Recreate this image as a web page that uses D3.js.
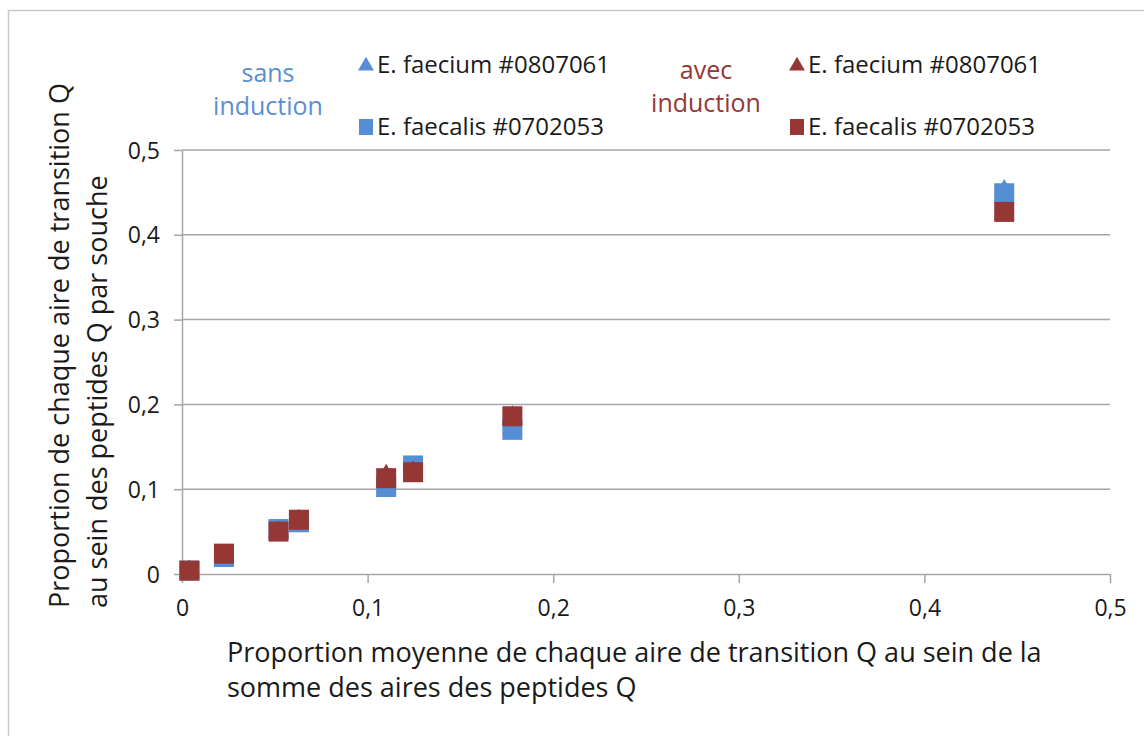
<!DOCTYPE html>
<html>
<head>
<meta charset="utf-8">
<script src="https://cdn.jsdelivr.net/npm/d3@7"></script>
<style>
  body { margin: 0; background: #fff; }
  text { font-family: "Open Sans", "Liberation Sans", sans-serif; fill: #1a1a1a; }
</style>
</head>
<body>
<script>
// x = proportion moyenne, y = proportion par souche
let xVals = [0.004, 0.0226, 0.052, 0.063, 0.110, 0.1245, 0.178, 0.443];
let faeciumSans = [0.003, 0.019, 0.050, 0.061, 0.103, 0.126, 0.172, 0.452];
let faecalisSans = [0.004, 0.020, 0.053, 0.061, 0.1026, 0.128, 0.170, 0.449];
let faeciumAvec = [0.003, 0.022, 0.049, 0.063, 0.116, 0.120, 0.185, 0.426];
let faecalisAvec = [0.004, 0.024, 0.050, 0.064, 0.113, 0.120, 0.186, 0.427];
let ticks = [0, 0.1, 0.2, 0.3, 0.4, 0.5];
let tickLabels = ['0', '0,1', '0,2', '0,3', '0,4', '0,5'];

let blue = '#558ed5';
let red = '#953735';

let width = 1144, height = 736;
let margin = { top: 150, right: 34, bottom: 162, left: 182 };

let svg = d3.select('body').append('svg')
  .attr('width', width).attr('height', height);

svg.append('rect')
  .attr('x', 8.5).attr('y', 10.5)
  .attr('width', width + 20).attr('height', height + 20)
  .attr('fill', 'none').attr('stroke', '#c8c8c8').attr('stroke-width', 1.5);

let x = d3.scaleLinear().domain([0, 0.5]).range([margin.left, width - margin.right]);
let y = d3.scaleLinear().domain([0, 0.5]).range([height - margin.bottom, margin.top]);

// grid
svg.append('g').selectAll('line')
  .data(ticks.slice(1))
  .enter().append('line')
  .attr('x1', x(0)).attr('x2', x(0.5))
  .attr('y1', d => y(d)).attr('y2', d => y(d))
  .attr('stroke', '#a6a6a6').attr('stroke-width', 1.5);

// axes
let xAxis = svg.append('g')
  .attr('transform', `translate(0,${y(0)})`)
  .call(d3.axisBottom(x).tickValues(ticks).tickFormat((d, i) => tickLabels[i]).tickSizeInner(9).tickSizeOuter(0).tickPadding(17));
let yAxis = svg.append('g')
  .attr('transform', `translate(${x(0)},0)`)
  .call(d3.axisLeft(y).tickValues(ticks).tickFormat((d, i) => tickLabels[i]).tickSizeInner(8).tickSizeOuter(0).tickPadding(14));

[xAxis, yAxis].forEach(a => {
  a.selectAll('path,line').attr('stroke', '#a6a6a6').attr('stroke-width', 1.5);
  a.selectAll('text').style('font-size', '23px').attr('fill', '#1a1a1a');
});
yAxis.selectAll('text').attr('dy', '0.35em');

// markers
let tri = d3.symbol().type(d3.symbolTriangle).size(180);
let series = [
  { vals: faeciumSans, color: blue, shape: 'tri' },
  { vals: faecalisSans, color: blue, shape: 'sq' },
  { vals: faeciumAvec, color: red, shape: 'tri' },
  { vals: faecalisAvec, color: red, shape: 'sq' }
];

series.forEach(s => {
  let pts = xVals.map((v, i) => ({ x: v, y: s.vals[i] }));
  let g = svg.append('g');
  if (s.shape === 'tri') {
    g.selectAll('path').data(pts).enter().append('path')
      .attr('d', tri)
      .attr('transform', d => `translate(${x(d.x)},${y(d.y)})`)
      .attr('fill', s.color);
  } else {
    g.selectAll('rect').data(pts).enter().append('rect')
      .attr('x', d => x(d.x) - 10).attr('y', d => y(d.y) - 10)
      .attr('width', 20).attr('height', 20)
      .attr('fill', s.color);
  }
});

// legend
let legend = [
  { label: 'E. faecium #0807061', color: blue, shape: 'tri', lx: 366, ly: 65 },
  { label: 'E. faecalis #0702053', color: blue, shape: 'sq', lx: 366, ly: 127 },
  { label: 'E. faecium #0807061', color: red, shape: 'tri', lx: 797, ly: 65 },
  { label: 'E. faecalis #0702053', color: red, shape: 'sq', lx: 797, ly: 127 }
];
let legTri = d3.symbol().type(d3.symbolTriangle).size(110);
legend.forEach(l => {
  if (l.shape === 'tri') {
    svg.append('path').attr('d', legTri)
      .attr('transform', `translate(${l.lx},${l.ly + 1})`).attr('fill', l.color);
  } else {
    svg.append('rect').attr('x', l.lx - 7).attr('y', l.ly - 8)
      .attr('width', 14).attr('height', 16).attr('fill', l.color);
  }
  svg.append('text').attr('x', l.lx + 11).attr('y', l.ly).attr('dy', '0.35em')
    .style('font-size', '24px').text(l.label);
});

let groupLabels = [
  { lines: ['sans', 'induction'], color: '#5b8fd0', cx: 268, cy: 73 },
  { lines: ['avec', 'induction'], color: red, cx: 706, cy: 70 }
];
groupLabels.forEach(gl => {
  gl.lines.forEach((t, i) => {
    svg.append('text').attr('x', gl.cx).attr('y', gl.cy + i * 33).attr('dy', '0.35em')
      .attr('text-anchor', 'middle').style('font-size', '25px')
      .style('fill', gl.color).text(t);
  });
});

// axis titles
let xTitle = ['Proportion moyenne de chaque aire de transition Q au sein de la', 'somme des aires des peptides Q'];
xTitle.forEach((t, i) => {
  svg.append('text').attr('x', 227).attr('y', 662 + i * 35)
    .style('font-size', '27px').text(t);
});

let yTitle = ['Proportion de chaque aire de transition Q', 'au sein des peptides Q par souche'];
yTitle.forEach((t, i) => {
  svg.append('text')
    .attr('transform', `translate(${69 + i * 38},608) rotate(-90)`)
    .style('font-size', '27px').text(t);
});
</script>
</body>
</html>
